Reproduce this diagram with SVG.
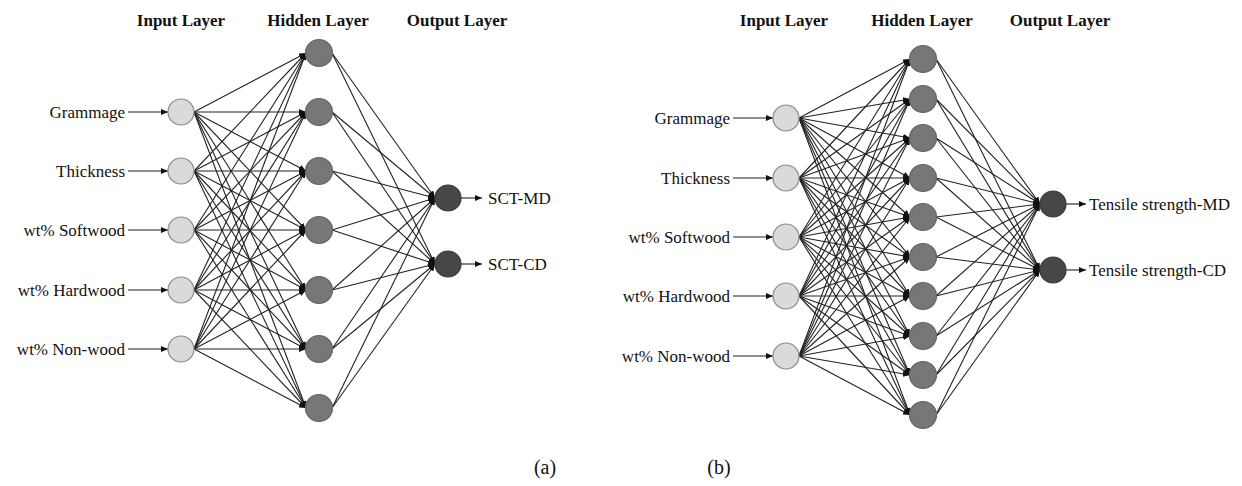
<svg xmlns="http://www.w3.org/2000/svg" width="1242" height="486" viewBox="0 0 1242 486">
<style>
text{font-family:"Liberation Serif","Times New Roman",serif;fill:#111;}
.h{font-size:17px;font-weight:bold;text-anchor:middle;}
.lbl{font-size:17px;}
.r{text-anchor:end;}
.cap{font-size:20px;text-anchor:middle;}
.in{fill:#dadada;stroke:#8a8a8a;stroke-width:1.2;}
.hid{fill:#777;stroke:#666;stroke-width:1.2;}
.out{fill:#474747;stroke:#3a3a3a;stroke-width:1.2;}
#connectors line{stroke:#222;stroke-width:1.1;marker-end:url(#ah);}
</style>
<defs>
<marker id="ah" markerUnits="userSpaceOnUse" markerWidth="7" markerHeight="6" refX="7" refY="3" orient="auto">
<path d="M0,0 L7,3 L0,6 z" fill="#111"/>
</marker>
</defs>
<rect width="1242" height="486" fill="#fff"/>

<g id="headings">
<text class="h" x="181" y="26">Input Layer</text>
<text class="h" x="318" y="26">Hidden Layer</text>
<text class="h" x="457" y="26">Output Layer</text>
<text class="h" x="784" y="26">Input Layer</text>
<text class="h" x="922" y="26">Hidden Layer</text>
<text class="h" x="1060" y="26">Output Layer</text>
<text class="cap" x="545" y="474">(a)</text>
<text class="cap" x="719" y="474">(b)</text>
</g>

<g id="connectors">
<!-- left: input arrows -->
<line x1="128" y1="112" x2="168" y2="112"/>
<line x1="128" y1="171" x2="168" y2="171"/>
<line x1="128" y1="230" x2="168" y2="230"/>
<line x1="128" y1="290" x2="168" y2="290"/>
<line x1="128" y1="349" x2="168" y2="349"/>
<!-- left: input -> hidden -->
<line x1="194" y1="112" x2="306" y2="53"/><line x1="194" y1="112" x2="306" y2="112"/><line x1="194" y1="112" x2="306" y2="171"/><line x1="194" y1="112" x2="306" y2="230"/><line x1="194" y1="112" x2="306" y2="290"/><line x1="194" y1="112" x2="306" y2="349"/><line x1="194" y1="112" x2="306" y2="408"/>
<line x1="194" y1="171" x2="306" y2="53"/><line x1="194" y1="171" x2="306" y2="112"/><line x1="194" y1="171" x2="306" y2="171"/><line x1="194" y1="171" x2="306" y2="230"/><line x1="194" y1="171" x2="306" y2="290"/><line x1="194" y1="171" x2="306" y2="349"/><line x1="194" y1="171" x2="306" y2="408"/>
<line x1="194" y1="230" x2="306" y2="53"/><line x1="194" y1="230" x2="306" y2="112"/><line x1="194" y1="230" x2="306" y2="171"/><line x1="194" y1="230" x2="306" y2="230"/><line x1="194" y1="230" x2="306" y2="290"/><line x1="194" y1="230" x2="306" y2="349"/><line x1="194" y1="230" x2="306" y2="408"/>
<line x1="194" y1="290" x2="306" y2="53"/><line x1="194" y1="290" x2="306" y2="112"/><line x1="194" y1="290" x2="306" y2="171"/><line x1="194" y1="290" x2="306" y2="230"/><line x1="194" y1="290" x2="306" y2="290"/><line x1="194" y1="290" x2="306" y2="349"/><line x1="194" y1="290" x2="306" y2="408"/>
<line x1="194" y1="349" x2="306" y2="53"/><line x1="194" y1="349" x2="306" y2="112"/><line x1="194" y1="349" x2="306" y2="171"/><line x1="194" y1="349" x2="306" y2="230"/><line x1="194" y1="349" x2="306" y2="290"/><line x1="194" y1="349" x2="306" y2="349"/><line x1="194" y1="349" x2="306" y2="408"/>
<!-- left: hidden -> output -->
<line x1="332" y1="53" x2="435" y2="198"/><line x1="332" y1="53" x2="435" y2="264"/>
<line x1="332" y1="112" x2="435" y2="198"/><line x1="332" y1="112" x2="435" y2="264"/>
<line x1="332" y1="171" x2="435" y2="198"/><line x1="332" y1="171" x2="435" y2="264"/>
<line x1="332" y1="230" x2="435" y2="198"/><line x1="332" y1="230" x2="435" y2="264"/>
<line x1="332" y1="290" x2="435" y2="198"/><line x1="332" y1="290" x2="435" y2="264"/>
<line x1="332" y1="349" x2="435" y2="198"/><line x1="332" y1="349" x2="435" y2="264"/>
<line x1="332" y1="408" x2="435" y2="198"/><line x1="332" y1="408" x2="435" y2="264"/>
<!-- left: output arrows -->
<line x1="461" y1="198" x2="482" y2="198"/>
<line x1="461" y1="264" x2="482" y2="264"/>

<!-- right: input arrows -->
<line x1="733" y1="118" x2="773" y2="118"/>
<line x1="733" y1="178" x2="773" y2="178"/>
<line x1="733" y1="237" x2="773" y2="237"/>
<line x1="733" y1="296" x2="773" y2="296"/>
<line x1="733" y1="356" x2="773" y2="356"/>
<!-- right: input -> hidden -->
<line x1="799" y1="118" x2="910" y2="59"/><line x1="799" y1="118" x2="910" y2="99"/><line x1="799" y1="118" x2="910" y2="138"/><line x1="799" y1="118" x2="910" y2="178"/><line x1="799" y1="118" x2="910" y2="217"/><line x1="799" y1="118" x2="910" y2="257"/><line x1="799" y1="118" x2="910" y2="296"/><line x1="799" y1="118" x2="910" y2="336"/><line x1="799" y1="118" x2="910" y2="375"/><line x1="799" y1="118" x2="910" y2="415"/>
<line x1="799" y1="178" x2="910" y2="59"/><line x1="799" y1="178" x2="910" y2="99"/><line x1="799" y1="178" x2="910" y2="138"/><line x1="799" y1="178" x2="910" y2="178"/><line x1="799" y1="178" x2="910" y2="217"/><line x1="799" y1="178" x2="910" y2="257"/><line x1="799" y1="178" x2="910" y2="296"/><line x1="799" y1="178" x2="910" y2="336"/><line x1="799" y1="178" x2="910" y2="375"/><line x1="799" y1="178" x2="910" y2="415"/>
<line x1="799" y1="237" x2="910" y2="59"/><line x1="799" y1="237" x2="910" y2="99"/><line x1="799" y1="237" x2="910" y2="138"/><line x1="799" y1="237" x2="910" y2="178"/><line x1="799" y1="237" x2="910" y2="217"/><line x1="799" y1="237" x2="910" y2="257"/><line x1="799" y1="237" x2="910" y2="296"/><line x1="799" y1="237" x2="910" y2="336"/><line x1="799" y1="237" x2="910" y2="375"/><line x1="799" y1="237" x2="910" y2="415"/>
<line x1="799" y1="296" x2="910" y2="59"/><line x1="799" y1="296" x2="910" y2="99"/><line x1="799" y1="296" x2="910" y2="138"/><line x1="799" y1="296" x2="910" y2="178"/><line x1="799" y1="296" x2="910" y2="217"/><line x1="799" y1="296" x2="910" y2="257"/><line x1="799" y1="296" x2="910" y2="296"/><line x1="799" y1="296" x2="910" y2="336"/><line x1="799" y1="296" x2="910" y2="375"/><line x1="799" y1="296" x2="910" y2="415"/>
<line x1="799" y1="356" x2="910" y2="59"/><line x1="799" y1="356" x2="910" y2="99"/><line x1="799" y1="356" x2="910" y2="138"/><line x1="799" y1="356" x2="910" y2="178"/><line x1="799" y1="356" x2="910" y2="217"/><line x1="799" y1="356" x2="910" y2="257"/><line x1="799" y1="356" x2="910" y2="296"/><line x1="799" y1="356" x2="910" y2="336"/><line x1="799" y1="356" x2="910" y2="375"/><line x1="799" y1="356" x2="910" y2="415"/>
<!-- right: hidden -> output -->
<line x1="936" y1="59" x2="1040" y2="204"/><line x1="936" y1="59" x2="1040" y2="270"/>
<line x1="936" y1="99" x2="1040" y2="204"/><line x1="936" y1="99" x2="1040" y2="270"/>
<line x1="936" y1="138" x2="1040" y2="204"/><line x1="936" y1="138" x2="1040" y2="270"/>
<line x1="936" y1="178" x2="1040" y2="204"/><line x1="936" y1="178" x2="1040" y2="270"/>
<line x1="936" y1="217" x2="1040" y2="204"/><line x1="936" y1="217" x2="1040" y2="270"/>
<line x1="936" y1="257" x2="1040" y2="204"/><line x1="936" y1="257" x2="1040" y2="270"/>
<line x1="936" y1="296" x2="1040" y2="204"/><line x1="936" y1="296" x2="1040" y2="270"/>
<line x1="936" y1="336" x2="1040" y2="204"/><line x1="936" y1="336" x2="1040" y2="270"/>
<line x1="936" y1="375" x2="1040" y2="204"/><line x1="936" y1="375" x2="1040" y2="270"/>
<line x1="936" y1="415" x2="1040" y2="204"/><line x1="936" y1="415" x2="1040" y2="270"/>
<!-- right: output arrows -->
<line x1="1066" y1="204" x2="1086" y2="204"/>
<line x1="1066" y1="270" x2="1086" y2="270"/>
</g>

<!-- left network nodes -->
<g id="a-in1"><circle class="in" cx="181" cy="112" r="13"/><text class="lbl r" x="125" y="118">Grammage</text></g>
<g id="a-in2"><circle class="in" cx="181" cy="171" r="13"/><text class="lbl r" x="125" y="177">Thickness</text></g>
<g id="a-in3"><circle class="in" cx="181" cy="230" r="13"/><text class="lbl r" x="125" y="236">wt% Softwood</text></g>
<g id="a-in4"><circle class="in" cx="181" cy="290" r="13"/><text class="lbl r" x="125" y="296">wt% Hardwood</text></g>
<g id="a-in5"><circle class="in" cx="181" cy="349" r="13"/><text class="lbl r" x="125" y="355">wt% Non-wood</text></g>
<g id="a-h1"><circle class="hid" cx="319" cy="53" r="13.5"/></g>
<g id="a-h2"><circle class="hid" cx="319" cy="112" r="13.5"/></g>
<g id="a-h3"><circle class="hid" cx="319" cy="171" r="13.5"/></g>
<g id="a-h4"><circle class="hid" cx="319" cy="230" r="13.5"/></g>
<g id="a-h5"><circle class="hid" cx="319" cy="290" r="13.5"/></g>
<g id="a-h6"><circle class="hid" cx="319" cy="349" r="13.5"/></g>
<g id="a-h7"><circle class="hid" cx="319" cy="408" r="13.5"/></g>
<g id="a-o1"><circle class="out" cx="448" cy="198" r="13"/><text class="lbl" x="488" y="204">SCT-MD</text></g>
<g id="a-o2"><circle class="out" cx="448" cy="264" r="13"/><text class="lbl" x="488" y="270">SCT-CD</text></g>

<!-- right network nodes -->
<g id="b-in1"><circle class="in" cx="786" cy="118" r="13"/><text class="lbl r" x="730" y="124">Grammage</text></g>
<g id="b-in2"><circle class="in" cx="786" cy="178" r="13"/><text class="lbl r" x="730" y="184">Thickness</text></g>
<g id="b-in3"><circle class="in" cx="786" cy="237" r="13"/><text class="lbl r" x="730" y="243">wt% Softwood</text></g>
<g id="b-in4"><circle class="in" cx="786" cy="296" r="13"/><text class="lbl r" x="730" y="302">wt% Hardwood</text></g>
<g id="b-in5"><circle class="in" cx="786" cy="356" r="13"/><text class="lbl r" x="730" y="362">wt% Non-wood</text></g>
<g id="b-h1"><circle class="hid" cx="923" cy="59" r="13.5"/></g>
<g id="b-h2"><circle class="hid" cx="923" cy="99" r="13.5"/></g>
<g id="b-h3"><circle class="hid" cx="923" cy="138" r="13.5"/></g>
<g id="b-h4"><circle class="hid" cx="923" cy="178" r="13.5"/></g>
<g id="b-h5"><circle class="hid" cx="923" cy="217" r="13.5"/></g>
<g id="b-h6"><circle class="hid" cx="923" cy="257" r="13.5"/></g>
<g id="b-h7"><circle class="hid" cx="923" cy="296" r="13.5"/></g>
<g id="b-h8"><circle class="hid" cx="923" cy="336" r="13.5"/></g>
<g id="b-h9"><circle class="hid" cx="923" cy="375" r="13.5"/></g>
<g id="b-h10"><circle class="hid" cx="923" cy="415" r="13.5"/></g>
<g id="b-o1"><circle class="out" cx="1053" cy="204" r="13"/><text class="lbl" x="1089" y="210">Tensile strength-MD</text></g>
<g id="b-o2"><circle class="out" cx="1053" cy="270" r="13"/><text class="lbl" x="1089" y="276">Tensile strength-CD</text></g>
</svg>
